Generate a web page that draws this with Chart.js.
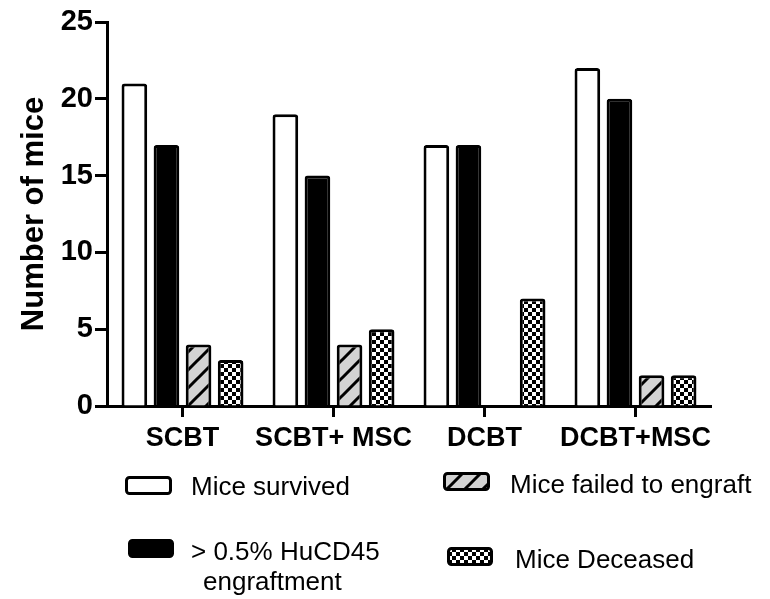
<!DOCTYPE html>
<html>
<head>
<meta charset="utf-8">
<script src="https://cdn.jsdelivr.net/npm/chart.js@4.4.1/dist/chart.umd.min.js"></script>
<style>
  html, body { margin: 0; padding: 0; background: #fff; }
  #wrap { width: 770px; height: 599px; position: relative; }
</style>
</head>
<body>
<div id="wrap"><canvas id="myChart"></canvas></div>
<script>
const categories = ['SCBT', 'SCBT+ MSC', 'DCBT', 'DCBT+MSC'];
const miceSurvived = [21, 19, 17, 22];
const miceEngrafted = [17, 15, 17, 20];
const miceFailed = [4, 4, 0, 2];
const miceDeceased = [3, 5, 7, 2];
const yTicks = [0, 5, 10, 15, 20, 25];
const legendLabels = ['Mice survived', ['> 0.5% HuCD45', 'engraftment'], 'Mice failed to engraft', 'Mice Deceased'];

Chart.defaults.font.family = 'Arial, "Liberation Sans", sans-serif';
Chart.defaults.color = '#000';

// fill patterns
function makeHatch() {
    const s = 18;
    const c = document.createElement('canvas');
    c.width = s; c.height = s;
    const g = c.getContext('2d');
    g.fillStyle = '#d3d3d3';
    g.fillRect(0, 0, s, s);
    g.strokeStyle = '#000';
    g.lineWidth = 3;
    g.beginPath();
    g.moveTo(-4, s + 4); g.lineTo(s + 4, -4);
    g.moveTo(-4, 4); g.lineTo(4, -4);
    g.moveTo(s - 4, s + 4); g.lineTo(s + 4, s - 4);
    g.stroke();
    return g.createPattern(c, 'repeat');
}

function makeChecker() {
    const c = document.createElement('canvas');
    c.width = 8; c.height = 8;
    const g = c.getContext('2d');
    g.fillStyle = '#fff';
    g.fillRect(0, 0, 8, 8);
    g.fillStyle = '#000';
    g.fillRect(0, 0, 4, 4);
    g.fillRect(4, 4, 4, 4);
    return g.createPattern(c, 'repeat');
}

const hatch = makeHatch();
const checker = makeChecker();

function barSet(label, data, fill) {
    return {
        label: label,
        data: data,
        backgroundColor: fill,
        borderColor: '#000',
        borderWidth: 3,
        borderRadius: 3,
        categoryPercentage: 0.85,
        barPercentage: 0.8,
    };
}

// legend in 2 columns, drawn by hand
const legendSpots = [
    { box: [125, 476, 47, 19], text: [[191, 495]] },
    { box: [128, 539, 46, 19], text: [[191, 560], [203, 590]] },
    { box: [443, 472, 47, 19], text: [[510, 493]] },
    { box: [447, 547, 46, 19], text: [[515, 568]] },
];

const gridLegend = {
    id: 'gridLegend',
    afterDraw(chart) {
        const ctx = chart.ctx;
        ctx.save();
        chart.data.datasets.forEach((ds, i) => {
            const spot = legendSpots[i];
            const [x, y, w, h] = spot.box;
            ctx.beginPath();
            ctx.roundRect(x + 1.5, y + 1.5, w - 3, h - 3, 3);
            ctx.fillStyle = ds.backgroundColor;
            ctx.fill();
            ctx.lineWidth = 3;
            ctx.strokeStyle = '#000';
            ctx.stroke();

            const lines = [].concat(legendLabels[i]);
            ctx.fillStyle = '#000';
            ctx.font = '26px Arial, "Liberation Sans", sans-serif';
            ctx.textBaseline = 'alphabetic';
            ctx.textAlign = 'left';
            lines.forEach((t, k) => {
                ctx.fillText(t, spot.text[k][0], spot.text[k][1]);
            });
        });
        ctx.restore();
    }
};

const ctx = document.getElementById('myChart').getContext('2d');
const chart = new Chart(ctx, {
    type: 'bar',
    data: {
        labels: categories,
        datasets: [
            barSet('Mice survived', miceSurvived, '#fff'),
            barSet('> 0.5% HuCD45 engraftment', miceEngrafted, '#000'),
            barSet('Mice failed to engraft', miceFailed, hatch),
            barSet('Mice Deceased', miceDeceased, checker),
        ],
    },
    options: {
        responsive: true,
        maintainAspectRatio: false,
        animation: false,
        layout: { padding: { top: 22, right: 59, bottom: 0, left: 0 } },
        plugins: {
            legend: { display: false },
            tooltip: { enabled: false },
        },
        scales: {
            x: {
                afterFit: (scale) => { scale.height = 193; },
                border: { display: true, width: 3, color: '#000' },
                grid: {
                    offset: false,
                    drawOnChartArea: false,
                    drawTicks: true,
                    tickLength: 11,
                    tickWidth: 3,
                    tickColor: '#000',
                },
                ticks: {
                    font: { size: 27, weight: 'bold' },
                    color: '#000',
                    padding: 5,
                    maxRotation: 0,
                    autoSkip: false,
                },
            },
            y: {
                min: 0,
                max: 25,
                afterFit: (scale) => { scale.width = 107; },
                afterBuildTicks: (scale) => {
                    scale.ticks = yTicks.map(v => ({ value: v }));
                },
                border: { display: true, width: 3, color: '#000' },
                grid: {
                    drawOnChartArea: false,
                    drawTicks: true,
                    tickLength: 12,
                    tickWidth: 3,
                    tickColor: '#000',
                },
                ticks: {
                    font: { size: 29, weight: 'bold' },
                    color: '#000',
                    padding: 2,
                },
                title: {
                    display: true,
                    text: 'Number of mice',
                    font: { size: 31, weight: 'bold' },
                    color: '#000',
                    padding: { top: 16, bottom: 0 },
                },
            },
        },
    },
    plugins: [gridLegend],
});
</script>
</body>
</html>
